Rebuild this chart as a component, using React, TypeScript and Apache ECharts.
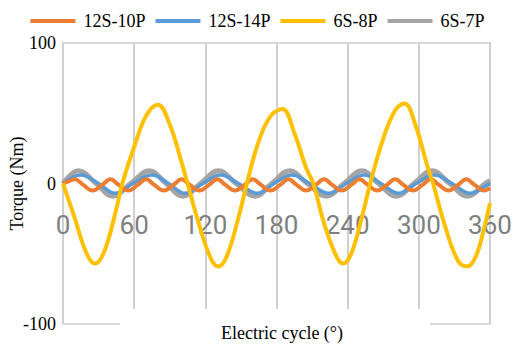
import React, { useEffect, useRef } from "react";
import * as echarts from "echarts";

const seriesNames = ["12S-10P", "12S-14P", "6S-8P", "6S-7P"];
const seriesColors = ["#ED7D31", "#5B9BD5", "#FFC000", "#A5A5A5"];

const xMin = 0;
const xMax = 360;
const xStep = 60;
const yMin = -100;
const yMax = 100;
const yStep = 100;

const xAxisTitle = "Electric cycle (°)";
const yAxisTitle = "Torque (Nm)";

// 12S-10P (orange)
const torque12S10P: number[][] = [
  [0, 0], [3, 1], [10, 3], [17, -1], [25, -5], [33, -1], [40, 3], [47, -1], [55, -5],
  [63, -1], [70, 3], [77, -1], [85, -5], [93, -1], [100, 3], [107, -1], [115, -5],
  [123, -1], [130, 3], [137, -1], [145, -5], [153, -1], [160, 3], [167, -1], [175, -5],
  [183, -1], [190, 3], [197, -1], [205, -5], [213, -1], [220, 3], [227, -1], [235, -5],
  [243, -1], [250, 3], [257, -1], [265, -5], [273, -1], [280, 3], [287, -1], [295, -5],
  [303, -1], [310, 3], [317, -1], [325, -5], [333, -1], [340, 3], [347, -1], [355, -5],
  [360, -3],
];

// 12S-14P (blue)
const torque12S14P: number[][] = [
  [0, 0], [15, 6], [30, 0], [44, -7], [59, 0], [75, 6], [89, 0], [103, -7], [118, 0],
  [133, 6], [148, 0], [164, -7], [178, 0], [193, 6], [208, 0], [224, -7], [239, 0],
  [254, 6], [268, 0], [283, -7], [298, 0], [313, 6], [328, 0], [343, -7], [358, -1],
  [360, 0],
];

// 6S-8P (yellow)
const torque6S8P: number[][] = [
  [0, 0], [10, -25], [20, -50], [27, -57], [35, -48], [45, -18], [50, 0], [60, 26],
  [70, 48], [80, 56], [90, 42], [100, 15], [105, 0], [115, -30], [125, -54], [131, -59],
  [138, -52], [148, -24], [155, 0], [165, 30], [175, 48], [185, 53], [195, 36], [205, 11],
  [211, 0], [220, -28], [230, -51], [236, -57], [243, -50], [252, -24], [259, 0],
  [270, 32], [280, 52], [288, 57], [297, 42], [307, 13], [312, 0], [322, -30],
  [333, -55], [341, -59], [348, -52], [355, -32], [360, -14],
];

// 6S-7P (gray)
const torque6S7P: number[][] = [
  [0, 0], [13, 9], [28, 0], [42, -9], [57, 0], [73, 9], [87, 0], [101, -9], [116, 0],
  [131, 9], [146, 0], [162, -9], [176, 0], [191, 9], [206, 0], [222, -9], [237, 0],
  [252, 9], [266, 0], [281, -9], [296, 0], [311, 9], [326, 0], [341, -9], [356, 0],
  [360, 2],
];

const seriesData = [torque12S10P, torque12S14P, torque6S8P, torque6S7P];
const seriesWidths = [4, 3.5, 4, 5];
const seriesZ = [5.7, 5.5, 6, 5];

const serif = '"Liberation Serif", "Times New Roman", serif';

export default function App() {
  const ref = useRef<HTMLDivElement>(null);

  useEffect(() => {
    document.body.style.margin = "0";
    if (!ref.current) return;
    const chart = echarts.init(ref.current, undefined, { renderer: "svg" });
    chart.setOption({
      animation: false,
      backgroundColor: "#ffffff",
      legend: {
        top: 7,
        left: "center",
        icon: "rect",
        itemWidth: 45,
        itemHeight: 4,
        itemGap: 10,
        data: seriesNames,
        textStyle: {
          fontFamily: serif,
          fontSize: 18,
          color: "#000",
          padding: [0, 0, 0, 3],
        },
      },
      grid: {
        left: 63,
        right: 25,
        top: 43,
        bottom: 26,
        outerBoundsMode: "none",
        containLabel: false,
        show: true,
        borderColor: "#d9d9d9",
        borderWidth: 2,
      },
      xAxis: {
        type: "value",
        min: xMin,
        max: xMax,
        interval: xStep,
        axisLine: { show: false, onZero: false },
        axisTick: { show: false },
        axisLabel: {
          color: "#7f7f7f",
          fontFamily: "Roboto",
          fontSize: 26,
          margin: -112,
          verticalAlign: "top",
          showMinLabel: true,
          showMaxLabel: true,
        },
        splitLine: { show: true, lineStyle: { color: "#d0d0d0", width: 2 } },
      },
      yAxis: {
        type: "value",
        min: yMin,
        max: yMax,
        interval: yStep,
        name: yAxisTitle,
        nameLocation: "middle",
        nameGap: 37,
        nameRotate: 90,
        nameMoveOverlap: false,
        nameTextStyle: { fontFamily: serif, fontSize: 18, color: "#000" },
        axisLine: { show: false },
        axisTick: { show: false },
        splitLine: { show: false },
        axisLabel: { fontFamily: serif, fontSize: 18, color: "#000", margin: 7 },
      },
      series: seriesNames.map((name, i) => ({
        name,
        type: "line",
        data: seriesData[i],
        smooth: 0.4,
        showSymbol: false,
        symbol: "none",
        z: seriesZ[i],
        color: seriesColors[i],
        lineStyle: { color: seriesColors[i], width: seriesWidths[i] },
      })),
      graphic: [
        {
          type: "rect",
          z: 100,
          shape: { x: 120, y: 309, width: 310, height: 41 },
          style: { fill: "#ffffff" },
        },
        {
          type: "text",
          z: 101,
          x: 282,
          y: 333,
          style: {
            text: xAxisTitle,
            font: `18px ${serif}`,
            fill: "#000",
            align: "center",
            verticalAlign: "middle",
          },
        },
      ],
    });
    return () => chart.dispose();
  }, []);

  return <div ref={ref} style={{ width: 515, height: 350 }} />;
}
